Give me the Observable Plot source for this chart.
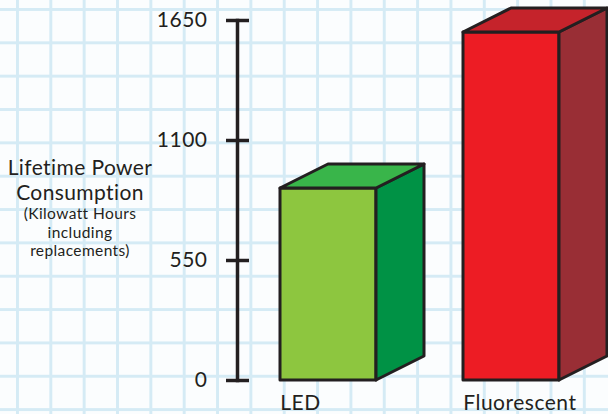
<!DOCTYPE html>
<html><head><meta charset="utf-8">
<script src="https://cdn.jsdelivr.net/npm/d3@7"></script>
<script src="https://cdn.jsdelivr.net/npm/@observablehq/plot@0.6"></script>
<style>
html,body{margin:0;padding:0;}
body{width:608px;height:414px;overflow:hidden;position:relative;background-color:#fbfdfe;
background-image:linear-gradient(to right, #d5ebf5 3px, transparent 3px), linear-gradient(to bottom, #d5ebf5 3px, transparent 3px);
background-size:33.35px 33.35px;background-position:16px 8px;
font-family:Lato, sans-serif;color:#231f20;}
#chart{position:absolute;left:0;top:0;}
#ylabel{position:absolute;left:0;top:155.4px;width:160px;text-align:center;}
.big{font-size:21px;line-height:24.5px;letter-spacing:0.4px;}
.small{font-size:15.5px;line-height:18.5px;letter-spacing:0.4px;}
</style></head>
<body>
<div id="chart"></div>
<div id="ylabel"><div class="big">Lifetime Power</div><div class="big">Consumption</div><div class="small">(Kilowatt Hours</div><div class="small">including</div><div class="small">replacements)</div></div>
<script>
const categories = ["LED", "Fluorescent"];
const values = [880, 1595];
const frontColors = ["#8dc63f", "#ed1c24"];
const topColors = ["#39b54a", "#c5232b"];
const sideColors = ["#009245", "#992e35"];
const yTicks = [0, 550, 1100, 1650];

const ink = "#231f20";
const depthX = 48, depthY = -24;
const data = categories.map((c, i) => ({category: c, value: values[i], front: frontColors[i]}));

const W = 608, H = 414, mL = 237, mR = 5, mT = 20, mB = 34;
const svg = Plot.plot({
  width: W, height: H,
  marginLeft: mL, marginRight: mR, marginTop: mT, marginBottom: mB,
  style: {background: "transparent", fontFamily: "Lato, sans-serif", color: ink, overflow: "visible", letterSpacing: "0.5px"},
  x: {domain: categories, paddingInner: 0.4741, paddingOuter: 0.2343, axis: null},
  y: {domain: [0, 1650], axis: null},
  marks: [
    Plot.barY(data, {x: "category", y: "value", fill: "front", stroke: ink, strokeWidth: 3, strokeLinejoin: "round"}),
    Plot.frame({anchor: "left", stroke: ink, strokeWidth: 3.5}),
    Plot.axisY({ticks: yTicks, tickSize: 11, tickPadding: 19, tickFormat: d => String(d), fontSize: 21, fill: ink, stroke: ink, strokeWidth: 3.5, label: null}),
    Plot.ruleY(yTicks, {y: d => d, insetRight: (W - mR) - 249, stroke: ink, strokeWidth: 3.5}),
    Plot.axisX({tickSize: 0, tickPadding: 15, fontSize: 21, fill: ink, textAnchor: "start", dx: -48.25, label: null})
  ]
});
document.getElementById("chart").appendChild(svg);

// 3D faces derived from the rendered bar rects
const rects = svg.querySelectorAll('g[aria-label="bar"] rect');
const barGroup = rects.length ? rects[0].parentNode : null;
const ns = "http://www.w3.org/2000/svg";
const faces = document.createElementNS(ns, "g");
rects.forEach((r, i) => {
  const x = +r.getAttribute("x"), y = +r.getAttribute("y"), w = +r.getAttribute("width"), h = +r.getAttribute("height");
  const top = [[x, y], [x + depthX, y + depthY], [x + w + depthX, y + depthY], [x + w, y]];
  const side = [[x + w, y], [x + w + depthX, y + depthY], [x + w + depthX, y + h + depthY], [x + w, y + h]];
  [[side, sideColors[i]], [top, topColors[i]]].forEach(([pts, col]) => {
    const p = document.createElementNS(ns, "polygon");
    p.setAttribute("points", pts.map(d => d.join(",")).join(" "));
    p.setAttribute("fill", col);
    p.setAttribute("stroke", ink);
    p.setAttribute("stroke-width", 3);
    p.setAttribute("stroke-linejoin", "round");
    faces.appendChild(p);
  });
});
if (barGroup) barGroup.parentNode.insertBefore(faces, barGroup.nextSibling);
</script>
</body></html>
